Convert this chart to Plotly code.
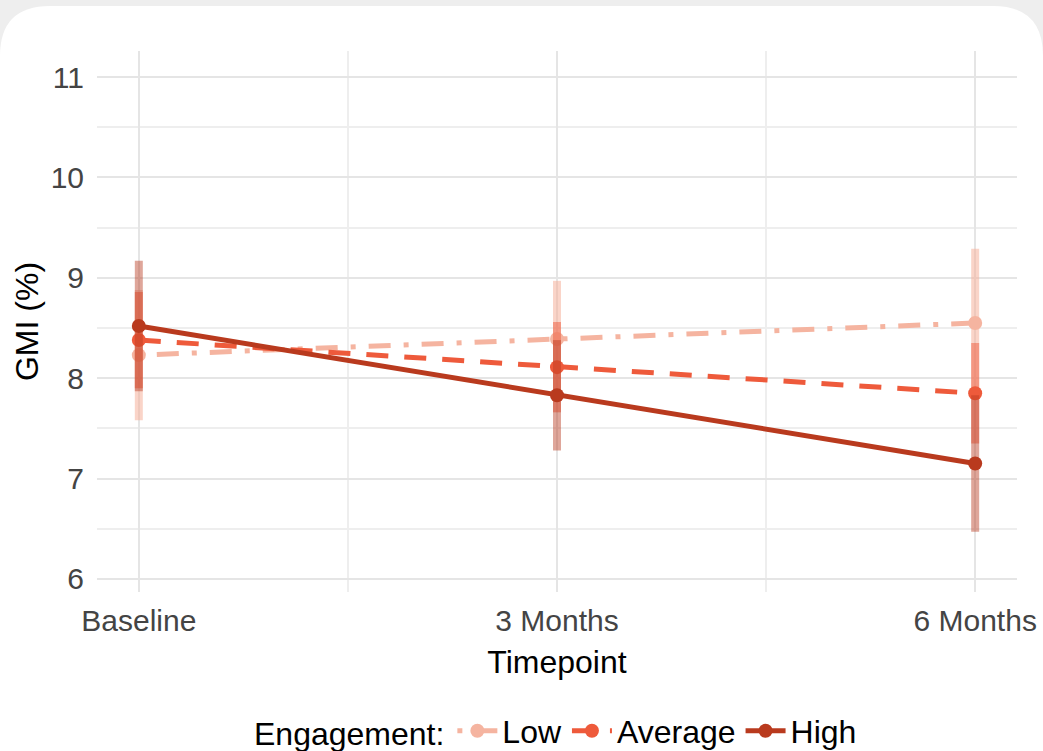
import plotly.graph_objects as go

# ---- data ----
timepoints = ["Baseline", "3 Months", "6 Months"]
groups = ["Low", "Average", "High"]
gmi_low = [8.23, 8.39, 8.55]
gmi_avg = [8.38, 8.11, 7.85]
gmi_high = [8.52, 7.83, 7.15]
err_low = [0.65, 0.58, 0.74]
err_avg = [0.48, 0.45, 0.50]
err_high = [0.65, 0.55, 0.68]
y_ticks = [6, 7, 8, 9, 10, 11]

# ---- styles ----
colors = {"Low": "#F5B4A0", "Average": "#EE5A3B", "High": "#B93A1E"}
err_colors = {"Low": "rgba(245,176,154,0.55)", "Average": "rgba(238,90,59,0.5)",
              "High": "rgba(185,58,30,0.45)"}
dashes = {"Low": "5px,13px,22px,13px", "Average": "22px,16px", "High": "solid"}

W, H = 1043, 751
ML, MR, MT, MB = 97, 26, 51, 159
PW, PH = W - ML - MR, H - MT - MB

def px(x):
    return (x - ML) / PW

def py(y):
    return (H - MB - y) / PH

fig = go.Figure()
xs = list(range(len(timepoints)))
series = {"Low": (gmi_low, err_low), "Average": (gmi_avg, err_avg), "High": (gmi_high, err_high)}
for g in groups:
    vals, errs = series[g]
    fig.add_trace(go.Scatter(
        x=xs, y=vals, name=g, mode="lines+markers",
        line=dict(color=colors[g], width=5, dash=dashes[g]),
        marker=dict(color=colors[g], size=14),
        error_y=dict(type="data", array=errs, visible=True, color=err_colors[g],
                     thickness=8, width=0),
    ))

# rounded white card
r = 50
x0, x1 = px(0), px(W)
y0, y1 = py(6), py(H + 60)
rx, ry = r / PW, r / PH
path = (f"M {x0},{y1} L {x0},{y0 - ry} Q {x0},{y0} {x0 + rx},{y0} "
        f"L {x1 - rx},{y0} Q {x1},{y0} {x1},{y0 - ry} L {x1},{y1} Z")
fig.add_shape(type="path", path=path, xref="paper", yref="paper",
              fillcolor="white", line=dict(width=0), layer="below")

font_family = "Liberation Sans, Arial, sans-serif"
fig.update_layout(
    width=W, height=H,
    margin=dict(l=ML, r=MR, t=MT, b=MB, pad=0, autoexpand=False),
    paper_bgcolor="#eeeeee", plot_bgcolor="white",
    font=dict(family=font_family, size=30, color="#000000"),
    showlegend=True,
    legend=dict(orientation="h", x=0.5, xanchor="center", y=py(731), yanchor="middle",
                title=dict(text="Engagement:", font=dict(size=32, color="#000")),
                font=dict(size=32, color="#000"), itemwidth=40,
                bgcolor="rgba(0,0,0,0)"),
    xaxis=dict(range=[-0.1, 2.1], tickmode="array", tickvals=xs, ticktext=timepoints,
               showgrid=True, gridcolor="#e5e5e5", gridwidth=2, zeroline=False,
               showline=False, ticks="", tickfont=dict(size=30, color="#444444"),
               automargin=False, ticklabelstandoff=8,
               title=dict(text="Timepoint", font=dict(size=32, color="#000"), standoff=14),
               minor=dict(tickvals=[0.5, 1.5], showgrid=True, gridcolor="#eeeeee", gridwidth=1.5)),
    yaxis=dict(range=[5.87, 11.26], tickmode="array", tickvals=y_ticks,
               showgrid=True, gridcolor="#e5e5e5", gridwidth=2, zeroline=False,
               showline=False, ticks="", tickfont=dict(size=30, color="#444444"),
               automargin=False, ticklabelstandoff=12,
               title=dict(text="GMI (%)", font=dict(size=32, color="#000"), standoff=2),
               minor=dict(dtick=0.5, tick0=0, showgrid=True, gridcolor="#eeeeee", gridwidth=1.5)),
)

fig.write_html("out.html", config={"displayModeBar": False},
               post_script="document.body.style.margin='0';")
